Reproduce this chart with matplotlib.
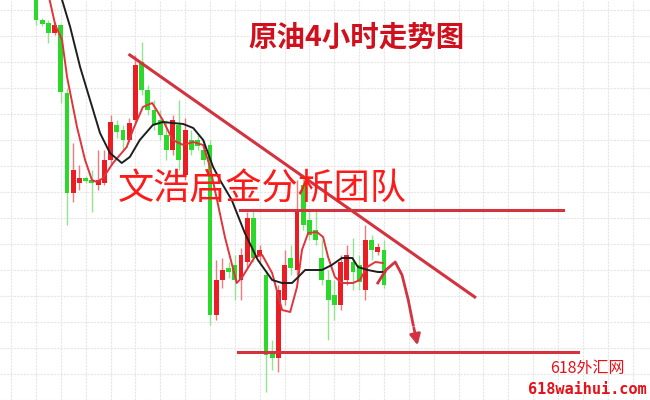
import numpy as np
import matplotlib
matplotlib.use("Agg")
import matplotlib.pyplot as plt
from matplotlib.ticker import MultipleLocator

plt.rcParams['font.family'] = ['Noto Sans CJK SC', 'DejaVu Sans']

# ----------------------------
# Candle data (4H crude oil)
# ----------------------------
opens = [400, 380, 377, 367, 375, 307, 207, 217, 222, 220, 215, 217, 240, 275, 270,
         260, 280, 338, 310, 290, 280, 265, 250, 275, 225, 260, 260, 250, 255, 85,
         120, 132, 135, 120, 138, 182, 144, 125, 48, 42, 100, 142, 130, 215, 180,
         170, 142, 120, 105, 95, 120, 138, 135, 110, 160, 148, 150]
closes = [380, 376, 367, 375, 308, 207, 230, 222, 219, 217, 220, 240, 278, 268, 260,
          277, 335, 310, 290, 275, 265, 250, 280, 240, 270, 250, 254, 240, 85, 120,
          130, 128, 120, 145, 182, 142, 150, 45, 42, 110, 135, 132, 190, 175, 165,
          160, 120, 100, 95, 138, 145, 128, 118, 160, 150, 153, 115]
highs = [410, 382, 380, 378, 376, 312, 257, 235, 224, 230, 250, 250, 285, 280, 275,
         282, 345, 358, 315, 300, 290, 280, 285, 300, 282, 270, 265, 260, 260, 140,
         142, 138, 145, 152, 188, 190, 155, 130, 60, 115, 150, 155, 220, 225, 190,
         190, 160, 130, 120, 145, 155, 162, 145, 175, 165, 157, 160]
lows = [375, 374, 357, 365, 297, 175, 198, 210, 217, 188, 210, 215, 235, 262, 250,
        258, 277, 305, 285, 270, 260, 240, 245, 230, 220, 245, 250, 235, 75, 80,
        112, 122, 100, 100, 132, 138, 138, 8, 30, 28, 95, 125, 125, 170, 160,
        155, 115, 60, 80, 90, 115, 110, 110, 100, 140, 145, 112]

# moving averages (index, price)
fast_ma_x = [1.4, 2.2, 3.1, 4.2, 5.0, 6.6, 7.9, 9.0, 9.8, 10.8, 12.4, 14.6, 15.6, 17.2,
             18.7, 20.4, 22.0, 23.7, 25.3, 26.9, 28.0, 30.4, 32.3, 33.2, 35.2, 36.4,
             38.0, 39.6, 40.9, 42.0, 42.8, 43.8, 45.2, 46.2, 47.0, 48.1, 49.2, 51.0,
             52.1, 53.3, 54.6, 55.8]
fast_ma_y = [410, 400, 375, 360, 323, 273, 240, 220, 218, 222, 237, 253, 270, 293,
             297, 280, 260, 255, 258, 255, 233, 163, 117, 123, 143, 145,
             127, 90, 88, 113, 150, 167, 168, 163, 143, 123, 117, 117,
             120, 133, 138, 137]
slow_ma_x = [3.5, 4.2, 5.5, 7.1, 8.7, 10.3, 11.9, 13.8, 15.1, 16.7, 18.8, 20.4, 22.0,
             23.7, 25.3, 26.9, 28.5, 29.6, 31.5, 33.6, 35.7, 38.0, 39.6, 41.2, 42.2,
             43.3, 44.9, 46.0, 47.6, 49.2, 50.9, 51.8, 53.4, 55.0, 56.2]
slow_ma_y = [410, 400, 373, 333, 300, 267, 247, 237, 243, 260, 275, 278, 277,
             276, 272, 260, 233, 220, 200, 167, 140, 120, 117, 117, 123,
             130, 130, 130, 135, 142, 142, 133, 130, 128, 128]

# drawn analysis
trend_x = [15.1, 70.6]
trend_y = [345, 103]
resist_x = [32.8, 84.8]
resist_y = 190
support_x = [32.5, 87.2]
support_y = 48
forecast_x = [55.0, 56.3, 57.8, 58.9, 59.9, 60.7, 61.5]
forecast_y = [117, 130, 138, 125, 100, 75, 52]

UP = '#ec1c24'
DOWN = '#2bd92b'
LINE_RED = '#d3323f'

fig = plt.figure(figsize=(6.5, 4), dpi=100)
ax = fig.add_axes([0, 0, 1, 1])
ax.set_xlim(-5.79, 98.8)
ax.set_ylim(0, 400)
ax.xaxis.set_major_locator(MultipleLocator(4))
ax.yaxis.set_major_locator(MultipleLocator(26))
ax.grid(True, color='#e6e6e6', linestyle=(0, (2, 1)), linewidth=0.8)
ax.tick_params(length=0, labelbottom=False, labelleft=False)
for s in ax.spines.values():
    s.set_visible(False)
ax.set_axisbelow(True)

# ----------------------------
# Candles
# ----------------------------
o = np.array(opens, float)
c = np.array(closes, float)
idx = np.arange(len(o))
is_up = c > o
body_col = np.where(is_up, UP, DOWN)
wick_col = np.where(is_up, '#f07a7e', '#8fe68f')
ax.vlines(idx, lows, highs, colors=wick_col, linewidth=1, zorder=2)
height = np.maximum(np.abs(c - o), 2)
ax.bar(idx, height, bottom=np.minimum(o, c), width=0.78, color=body_col,
       linewidth=0, zorder=3)

# moving averages
ax.plot(fast_ma_x, fast_ma_y, color='#e0343a', linewidth=1.4, zorder=4)
ax.plot(slow_ma_x, slow_ma_y, color='#1e1e1e', linewidth=1.4, zorder=4)

# trend / support / resistance
ax.plot(trend_x, trend_y, color=LINE_RED, linewidth=2.2, zorder=5)
ax.plot(resist_x, [resist_y, resist_y], color=LINE_RED, linewidth=2.2, zorder=5)
ax.plot(support_x, [support_y, support_y], color=LINE_RED, linewidth=2.2, zorder=5)

# forecast arrow
ax.plot(forecast_x[:-1], forecast_y[:-1], color=LINE_RED, linewidth=2, zorder=6)
ax.annotate('', xy=(forecast_x[-1], forecast_y[-1]),
            xytext=(forecast_x[-2], forecast_y[-2]),
            arrowprops=dict(arrowstyle='-|>', color=LINE_RED, lw=2,
                            mutation_scale=16), zorder=6)

# ----------------------------
# Texts
# ----------------------------
fig.text(357 / 650, 1 - 38 / 400, '原油4小时走势图', color='#d0101c', fontsize=20.5,
         fontweight='bold', ha='center', va='center')
fig.text(262 / 650, 1 - 190 / 400, '文浩启金分析团队', color='#ff1a1a', fontsize=26,
         fontweight='light', ha='center', va='center', zorder=7)
fig.text(587 / 650, 1 - 369 / 400, '618外汇网', color='#e8101a', fontsize=11.5,
         ha='center', va='center')
fig.text(587 / 650, 1 - 389 / 400, '618waihui.com', color='#e8101a', fontsize=11,
         family=['DejaVu Sans Mono'], fontweight='bold', ha='center', va='center')

fig.savefig('out.png', dpi=100, facecolor='white')
